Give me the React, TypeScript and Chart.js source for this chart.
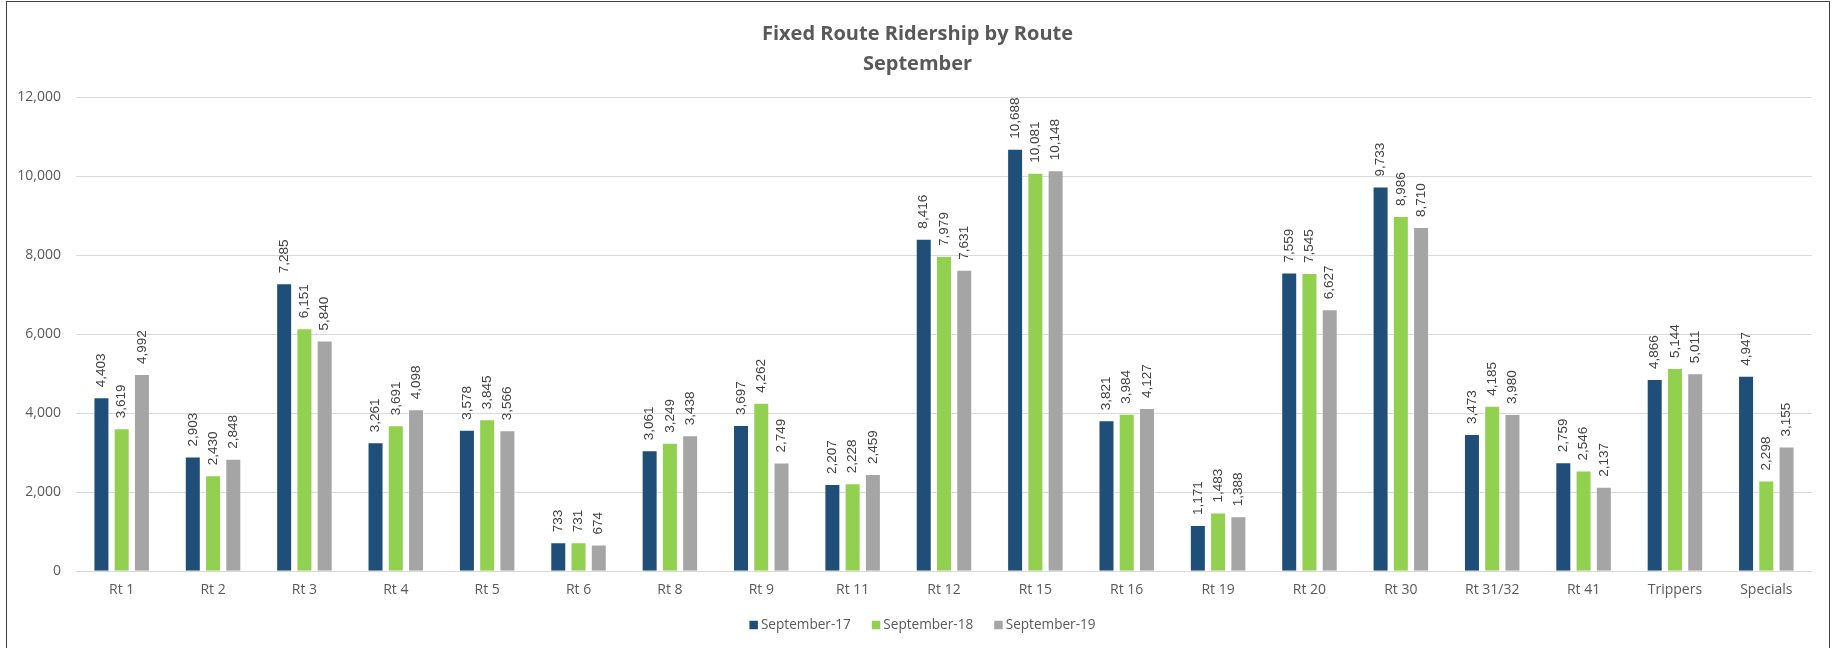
import React, { useEffect, useRef } from "react";
import { Chart, registerables } from "chart.js";

Chart.register(...registerables);

const routes = ["Rt 1", "Rt 2", "Rt 3", "Rt 4", "Rt 5", "Rt 6", "Rt 8", "Rt 9", "Rt 11", "Rt 12", "Rt 15", "Rt 16", "Rt 19", "Rt 20", "Rt 30", "Rt 31/32", "Rt 41", "Trippers", "Specials"];
const sep17 = [4403, 2903, 7285, 3261, 3578, 733, 3061, 3697, 2207, 8416, 10688, 3821, 1171, 7559, 9733, 3473, 2759, 4866, 4947];
const sep18 = [3619, 2430, 6151, 3691, 3845, 731, 3249, 4262, 2228, 7979, 10081, 3984, 1483, 7545, 8986, 4185, 2546, 5144, 2298];
const sep19 = [4992, 2848, 5840, 4098, 3566, 674, 3438, 2749, 2459, 7631, 10148, 4127, 1388, 6627, 8710, 3980, 2137, 5011, 3155];
const seriesNames = ["September-17", "September-18", "September-19"];
const seriesColors = ["#1F4E79", "#92D050", "#A5A5A5"];
const titleLines = ["Fixed Route Ridership by Route", "September"];
const yMax = 12000;
const yStep = 2000;

const W = 1835;
const H = 648;
const FONT = "'Open Sans', 'Noto Sans', sans-serif";
const TEXT = "#595959";

const valueLabels = {
  id: "valueLabels",
  afterDatasetsDraw(chart: any) {
    const ctx = chart.ctx;
    ctx.save();
    ctx.font = '13.5px "Liberation Sans", Arial, sans-serif';
    ctx.fillStyle = "#404040";
    ctx.textAlign = "left";
    ctx.textBaseline = "middle";
    chart.data.datasets.forEach((ds: any, i: number) => {
      const meta = chart.getDatasetMeta(i);
      meta.data.forEach((bar: any, j: number) => {
        const v = ds.data[j] as number;
        ctx.save();
        ctx.translate(bar.x, bar.y - 10);
        ctx.rotate(-Math.PI / 2);
        ctx.fillText(v.toLocaleString("en-US"), 0, 0);
        ctx.restore();
      });
    });
    ctx.restore();
  },
};

const bottomLegend = {
  id: "bottomLegend",
  afterDraw(chart: any) {
    const ctx = chart.ctx;
    ctx.save();
    ctx.font = `13.6px ${FONT}`;
    ctx.textBaseline = "middle";
    ctx.textAlign = "left";
    const box = 8.5;
    const gap = 3;
    const spacing = 21;
    const items = chart.data.datasets.map((ds: any) => ({
      text: ds.label as string,
      color: ds.backgroundColor as string,
      w: box + gap + ctx.measureText(ds.label).width,
    }));
    const total = items.reduce((s: number, it: any) => s + it.w, 0) + spacing * (items.length - 1);
    let x = chart.width / 2 + 5 - total / 2;
    const y = 625;
    items.forEach((it: any) => {
      ctx.fillStyle = it.color;
      ctx.fillRect(x, y - box / 2, box, box);
      ctx.fillStyle = TEXT;
      ctx.fillText(it.text, x + box + gap, y + 0.5);
      x += it.w + spacing;
    });
    ctx.restore();
  },
};

export default function App() {
  const ref = useRef<HTMLCanvasElement | null>(null);
  useEffect(() => {
    if (!ref.current) return;
    const all = [sep17, sep18, sep19];
    const chart = new Chart(ref.current, {
      type: "bar",
      data: {
        labels: routes,
        datasets: all.map((d, i) => ({
          label: seriesNames[i],
          data: d,
          backgroundColor: seriesColors[i],
          borderColor: "rgba(255,255,255,0.35)",
          borderWidth: 1,
          categoryPercentage: 0.665,
          barPercentage: 0.79,
          yAxisID: "y",
        })),
      },
      options: {
        responsive: false,
        animation: false,
        layout: { padding: { left: 0, right: 0, top: 19, bottom: 47 } },
        plugins: {
          title: {
            display: true,
            text: titleLines,
            color: TEXT,
            font: { family: FONT, size: 20, weight: "bold", lineHeight: 1.5 },
            padding: { top: 0, bottom: 18 },
          },
          legend: { display: false },
          tooltip: { enabled: false },
        },
        scales: {
          x: {
            grid: { display: false },
            border: { display: false },
            ticks: {
              color: TEXT,
              font: { family: FONT, size: 14 },
              padding: 2.5,
              maxRotation: 0,
              autoSkip: false,
            },
          },
          y: {
            min: 0,
            max: yMax,
            grid: { color: "#D9D9D9", drawTicks: false, lineWidth: 1 },
            border: { display: false },
            ticks: {
              stepSize: yStep,
              color: TEXT,
              font: { family: FONT, size: 14 },
              padding: 15,
              callback: (v: any) => Number(v).toLocaleString("en-US"),
            },
            afterFit: (s: any) => {
              s.width = 76;
            },
          },
          yRight: {
            position: "right",
            display: true,
            grid: { display: false, drawTicks: false },
            border: { display: false },
            ticks: { display: false },
            afterFit: (s: any) => {
              s.width = 23;
            },
          },
        },
      },
      plugins: [valueLabels, bottomLegend],
    });
    return () => chart.destroy();
  }, []);
  return (
    <div style={{ position: "fixed", left: 0, top: 0, width: W, height: H, background: "#fff", overflow: "hidden" }}>
      <canvas ref={ref} width={W} height={H} style={{ display: "block", width: W, height: H }} />
      <div
        style={{
          position: "absolute",
          left: 6,
          top: 1,
          width: 1822,
          height: 660,
          border: "1px solid #404040",
          pointerEvents: "none",
        }}
      />
    </div>
  );
}
